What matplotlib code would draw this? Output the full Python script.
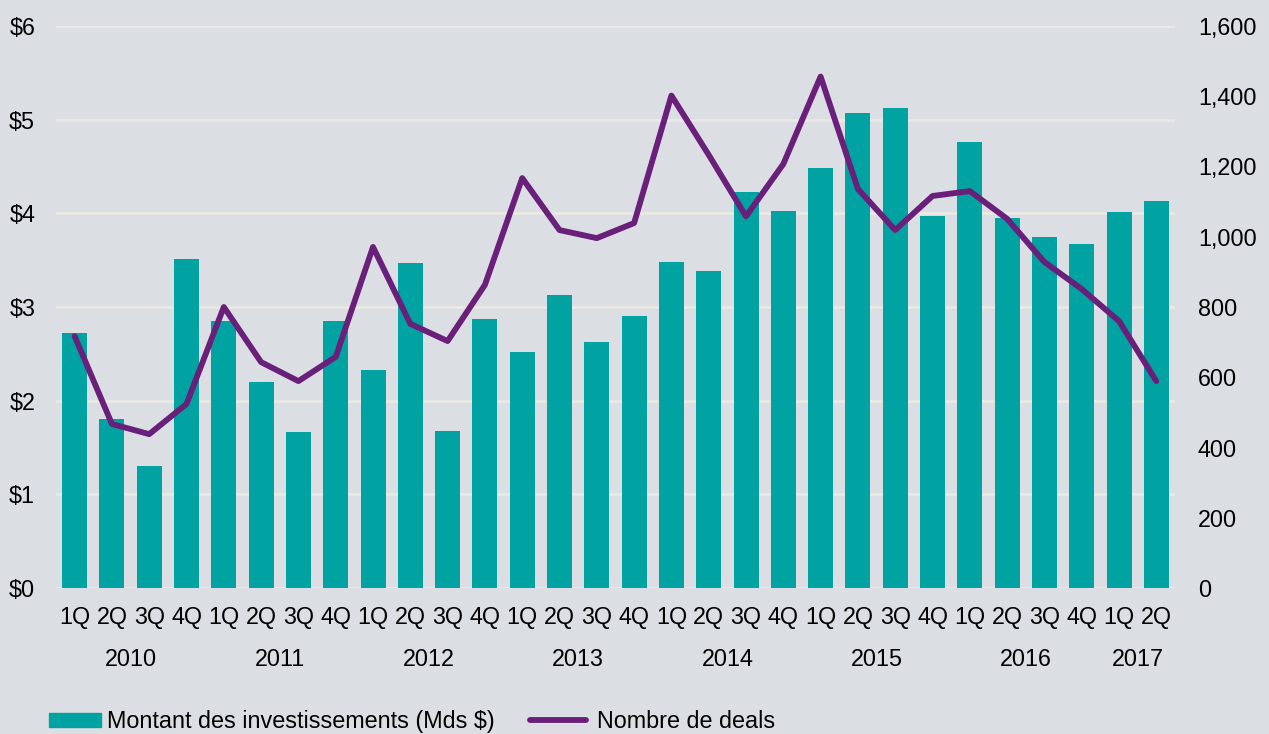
import matplotlib
matplotlib.use("Agg")
import matplotlib.pyplot as plt
import numpy as np
from matplotlib.ticker import FuncFormatter

plt.rcParams["font.family"] = ["Liberation Sans", "DejaVu Sans"]

quarters = ["1Q", "2Q", "3Q", "4Q"] * 7 + ["1Q", "2Q"]
years = ["2010", "2011", "2012", "2013", "2014", "2015", "2016", "2017"]
year_counts = [4, 4, 4, 4, 4, 4, 4, 2]

# Montant des investissements (Mds $)
montant = [2.72, 1.80, 1.30, 3.51, 2.85, 2.20, 1.67, 2.85,
           2.33, 3.47, 1.68, 2.87, 2.52, 3.13, 2.63, 2.90,
           3.48, 3.38, 4.23, 4.02, 4.48, 5.07, 5.12, 3.97,
           4.76, 3.95, 3.75, 3.67, 4.01, 4.13]
# Nombre de deals
deals = [717, 467, 438, 524, 800, 643, 589, 658,
         971, 752, 703, 863, 1167, 1019, 996, 1039,
         1402, 1233, 1058, 1207, 1456, 1136, 1019, 1116,
         1130, 1051, 928, 851, 760, 589]

bg = "#DBDFE3"
teal = "#00A3A1"
purple = "#6A1F7A"
grid = "#EBE9E4"
fs = 16.8

fig = plt.figure(figsize=(12.69, 7.34), dpi=100, facecolor=bg)
ax = fig.add_axes([0.0441, 0.1989, 0.8818, 0.7657])
ax.set_facecolor(bg)
x = np.arange(len(montant))

ax.bar(x, montant, width=0.67, color=teal, zorder=2)
ax.set_xlim(-0.5, len(montant) - 0.5)
ax.set_ylim(0, 6)
ax.set_yticks(range(0, 7))
ax.yaxis.set_major_formatter(FuncFormatter(lambda v, p: "${:d}".format(int(v))))
ax.grid(axis="y", color=grid, linewidth=2, zorder=0)
ax.set_axisbelow(True)
for s in ax.spines.values():
    s.set_visible(False)
ax.set_xticks(x)
ax.set_xticklabels(quarters)
ax.tick_params(axis="x", length=0, pad=13, labelsize=fs)
ax.tick_params(axis="y", length=0, pad=15, labelsize=fs)

ax2 = ax.twinx()
ax2.plot(x, deals, color=purple, linewidth=4.2, solid_joinstyle="round",
         solid_capstyle="round", zorder=3)
ax2.set_ylim(0, 1600)
ax2.set_yticks(range(0, 1601, 200))
ax2.yaxis.set_major_formatter(FuncFormatter(lambda v, p: "{:,}".format(int(v))))
ax2.tick_params(axis="y", length=0, pad=16.5, labelsize=fs)
for s in ax2.spines.values():
    s.set_visible(False)

# year labels
start = 0
for yr, n in zip(years, year_counts):
    center = start + (n - 1) / 2
    ax.text(center, -0.128, yr, transform=ax.get_xaxis_transform(),
            ha="center", va="center", fontsize=fs)
    start += n

# legend
h1 = plt.Rectangle((0, 0), 1, 1, color=teal)
fig.legend([h1], ["Montant des investissements (Mds $)"],
           loc="center left", bbox_to_anchor=(0.0386, 0.017),
           frameon=False, fontsize=fs, handlelength=2.24, handleheight=0.56,
           handletextpad=0.26, borderpad=0, borderaxespad=0)
h2, = ax2.plot([], [], color=purple, linewidth=4.2, solid_capstyle="round")
fig.legend([h2], ["Nombre de deals"],
           loc="center left", bbox_to_anchor=(0.4177, 0.017),
           frameon=False, fontsize=fs, handlelength=2.4,
           handletextpad=0.47, borderpad=0, borderaxespad=0)

fig.savefig("out.png", dpi=100, facecolor=bg)
